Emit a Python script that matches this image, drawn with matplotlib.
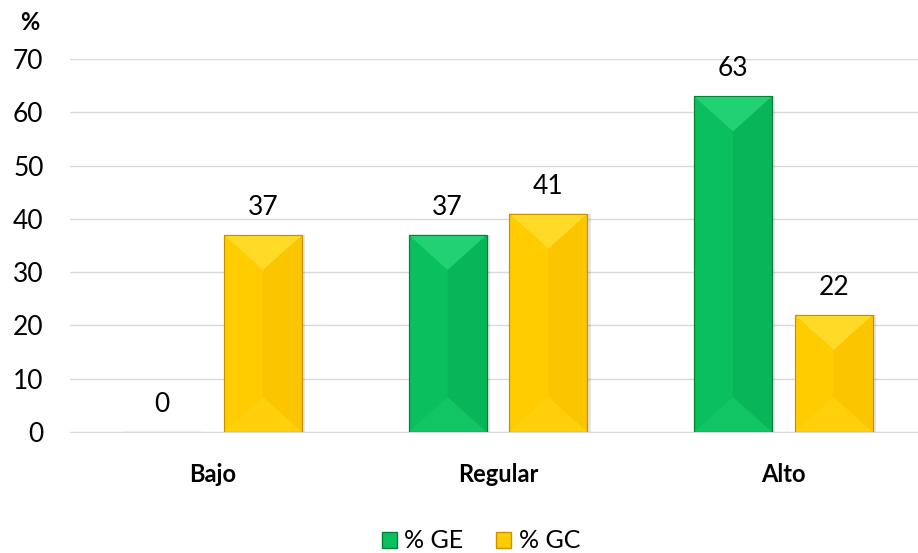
import matplotlib.pyplot as plt
import matplotlib.patches as mpatches
import numpy as np

plt.rcParams['font.family'] = ['Lato', 'DejaVu Sans']

categories = ["Bajo", "Regular", "Alto"]
ge = [0, 37, 63]
gc = [37, 41, 22]
series = ["% GE", "% GC"]

# base, light (top/bottom bevel), dark (right side), edge
green = ("#0ABF5E", "#2FD97F", "#049A47", "#03803A")
gold = ("#FFCC00", "#FFE23A", "#F2B300", "#C79200")

fig = plt.figure(figsize=(9.18, 5.53), dpi=100)
ax = fig.add_axes([70 / 918, 121 / 553, 856 / 918, 373 / 553])

x = np.arange(len(categories))
w = 0.273
off = 0.1765

b1 = ax.bar(x - off, ge, w, color=green[0], edgecolor=green[3], linewidth=0.8, zorder=3)
b2 = ax.bar(x + off, gc, w, color=gold[0], edgecolor=gold[3], linewidth=0.8, zorder=3)

ax.set_xlim(-0.5, 2.5)
ax.set_ylim(0, 70)

# pixels per data unit, used to keep the bevel square on screen
px_x = 856 / 3
px_y = 373 / 70


def bevel(bars, cols):
    for p in bars:
        x0, h, bw = p.get_x(), p.get_height(), p.get_width()
        if h <= 0:
            continue
        x1 = x0 + bw
        xm = x0 + bw / 2
        d = min((bw * px_x / 2) / px_y * 0.9, h / 2)
        # right side a little darker
        ax.add_patch(mpatches.Polygon([(xm, d), (x1, 0), (x1, h), (xm, h - d)],
                                      closed=True, fc=cols[2], ec="none", alpha=0.25, zorder=3.1))
        # top light triangle
        ax.add_patch(mpatches.Polygon([(x0, h), (x1, h), (xm, h - d)],
                                      closed=True, fc=cols[1], ec="none", alpha=0.7, zorder=3.2))
        # bottom triangle
        ax.add_patch(mpatches.Polygon([(x0, 0), (x1, 0), (xm, d)],
                                      closed=True, fc=cols[1], ec="none", alpha=0.2, zorder=3.2))
        # outline on top
        ax.add_patch(mpatches.Rectangle((x0, 0), bw, h, fc="none", ec=cols[3],
                                        lw=0.8, zorder=3.3))
        # soft shadow on the right
        ax.add_patch(mpatches.Rectangle((x1, 0), 0.012, h, fc="#000000", alpha=0.1,
                                        ec="none", zorder=2.9))


bevel(b1, green)
bevel(b2, gold)

for bars, vals in ((b1, ge), (b2, gc)):
    for p, v in zip(bars, vals):
        ax.text(p.get_x() + p.get_width() / 2, v + 2.8, f"{v}", ha="center", va="bottom",
                fontsize=19, color="#000000")

ax.set_yticks(range(0, 71, 10))
ax.tick_params(axis="y", length=0, labelsize=19, pad=19)
ax.tick_params(axis="x", length=0, labelsize=17, pad=22)
ax.set_xticks(x)
ax.set_xticklabels(categories, fontweight="bold")
ax.grid(axis="y", color="#D9D9D9", linewidth=1, zorder=0)
ax.set_axisbelow(True)
for s in ["top", "right", "left"]:
    ax.spines[s].set_visible(False)
ax.spines["bottom"].set_color("#D9D9D9")

fig.text(30 / 918, 1 - 22 / 553, "%", fontsize=17, fontweight="bold", ha="center", va="center")

handles = [mpatches.Patch(fc=green[0], ec=green[3], label=series[0]),
           mpatches.Patch(fc=gold[0], ec=gold[3], label=series[1])]
fig.legend(handles=handles, loc="center", bbox_to_anchor=(481 / 918, 1 - 541 / 553), ncol=2,
           frameon=False, fontsize=18, handlelength=0.6, handleheight=0.6,
           handletextpad=0.3, columnspacing=1.3)

fig.savefig("out.png", dpi=100)
